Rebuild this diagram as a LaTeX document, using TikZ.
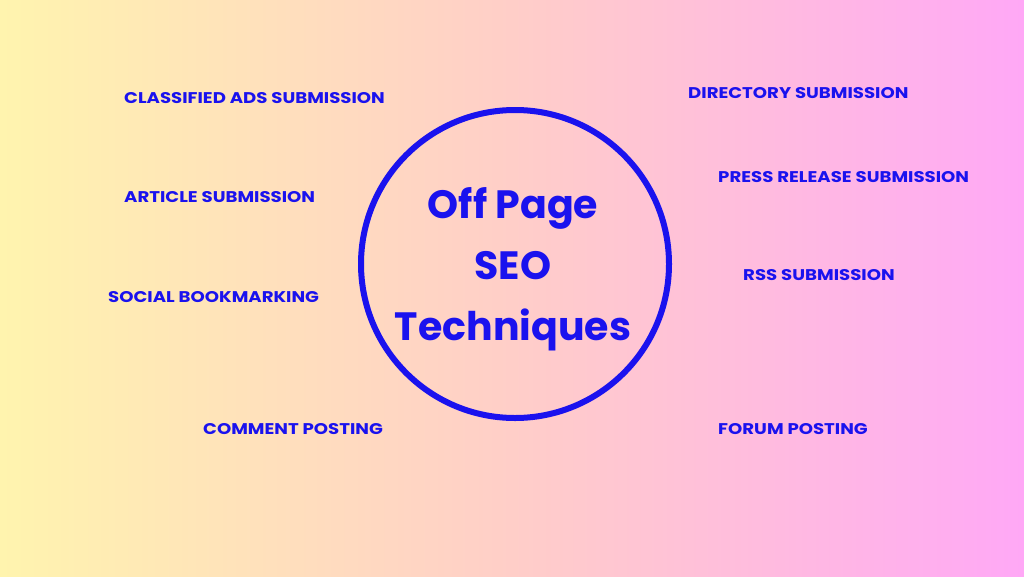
\documentclass[tikz,border=0pt]{standalone}
\usepackage{fontspec}
\setmainfont{Poppins}
\definecolor{seoblue}{HTML}{1A12EE}
\definecolor{bgleft}{HTML}{FFF4AE}
\definecolor{bgmid}{HTML}{FFCEC8}
\definecolor{bgright}{HTML}{FFA8F6}
\tikzset{
  item/.style={anchor=west,text=seoblue,font=\bfseries\fontsize{15.5}{17}\selectfont,inner sep=0pt,xscale=1.17,transform shape}
}
\begin{document}
\begin{tikzpicture}[x=1pt,y=-1pt]
  \shade[left color=bgleft,right color=bgright,middle color=bgmid] (0,0) rectangle (1024,576);
  \useasboundingbox (0,0) rectangle (1024,576);
  \node[circle,draw=seoblue,line width=6pt,minimum size=308pt] (hub) at (515,264) {};
  \node[text=seoblue,align=center,font=\fontsize{39.5}{61}\selectfont\bfseries] (title) at (513,269) {Off Page\\SEO\\Techniques};
  % left column
  \node[item] (classified) at (124,98)  {CLASSIFIED ADS SUBMISSION};
  \node[item] (article)    at (124,197) {ARTICLE SUBMISSION};
  \node[item] (social)     at (108,297) {SOCIAL BOOKMARKING};
  \node[item] (comment)    at (203,429) {COMMENT POSTING};
  % right column
  \node[item] (directory)  at (688,93)  {DIRECTORY SUBMISSION};
  \node[item] (press)      at (718,177) {PRESS RELEASE SUBMISSION};
  \node[item] (rss)        at (743,275) {RSS SUBMISSION};
  \node[item] (forum)      at (718,429) {FORUM POSTING};
\end{tikzpicture}
\end{document}
